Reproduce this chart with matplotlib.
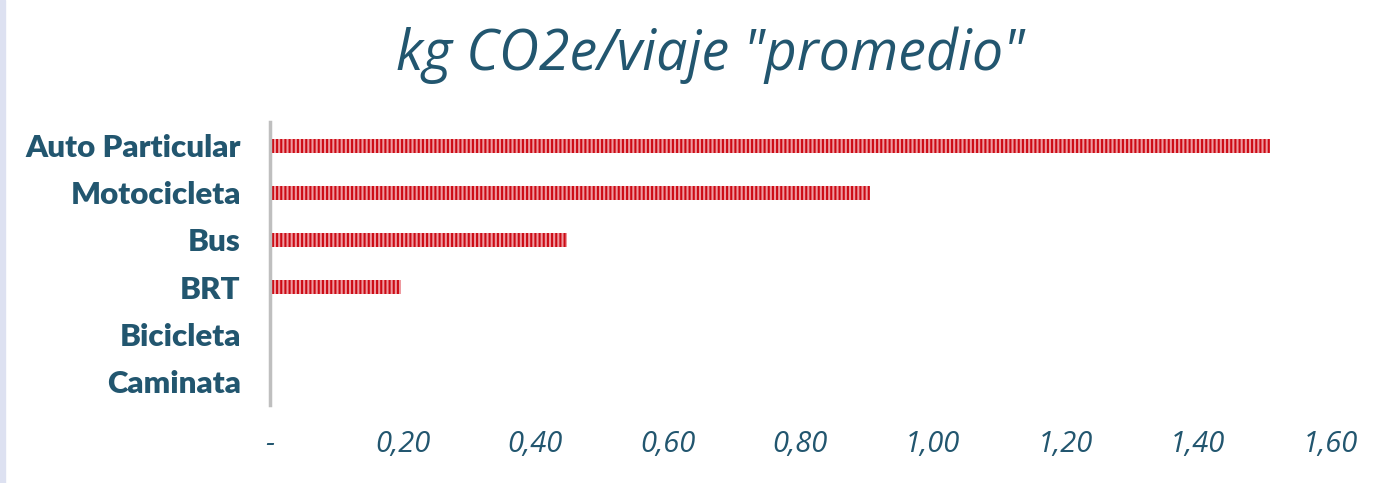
import matplotlib.pyplot as plt
from matplotlib.patches import Rectangle

# data
modes = ["Auto Particular", "Motocicleta", "Bus", "BRT", "Bicicleta", "Caminata"]
kg_per_trip = [1.51, 0.905, 0.448, 0.197, 0.0, 0.0]
tick_values = [0.0, 0.2, 0.4, 0.6, 0.8, 1.0, 1.2, 1.4, 1.6]
tick_labels = ["-", "0,20", "0,40", "0,60", "0,80", "1,00", "1,20", "1,40", "1,60"]

navy = "#22566F"
plt.rcParams["hatch.linewidth"] = 1.5

fig = plt.figure(figsize=(13.96, 4.83), dpi=100)
fig.patches.append(Rectangle((0, 0), 5 / 1396, 1, transform=fig.transFigure,
                             color="#DDE1F1", zorder=0))
ax = fig.add_axes([270 / 1396, 78 / 483, 1060 / 1396, 283 / 483])

y = list(range(len(modes)))
ax.barh(y, kg_per_trip, height=0.3, color="#EE9AA0", edgecolor="#CC0A14",
        linewidth=0, hatch="||||")
ax.set_ylim(5.5, -0.5)
ax.set_xlim(0, 1.6)

ax.set_yticks(y)
ax.set_yticklabels(modes, fontsize=22.5, fontweight="heavy", color=navy,
                   family="Lato")
ax.set_xticks(tick_values)
ax.set_xticklabels(tick_labels, fontsize=21, style="italic", color=navy,
                   family="Open Sans")
ax.tick_params(axis="y", length=0, pad=21)
ax.tick_params(axis="x", length=0, pad=18)

for side in ["top", "right", "bottom"]:
    ax.spines[side].set_visible(False)
ax.spines["left"].set_color("#BFBFBF")
ax.spines["left"].set_linewidth(2.5)

fig.text(0.509, 0.885, 'kg CO2e/viaje "promedio"', ha="center", va="center",
         fontsize=40, style="italic", color=navy, family="Open Sans")

fig.savefig("out.png", dpi=100)
